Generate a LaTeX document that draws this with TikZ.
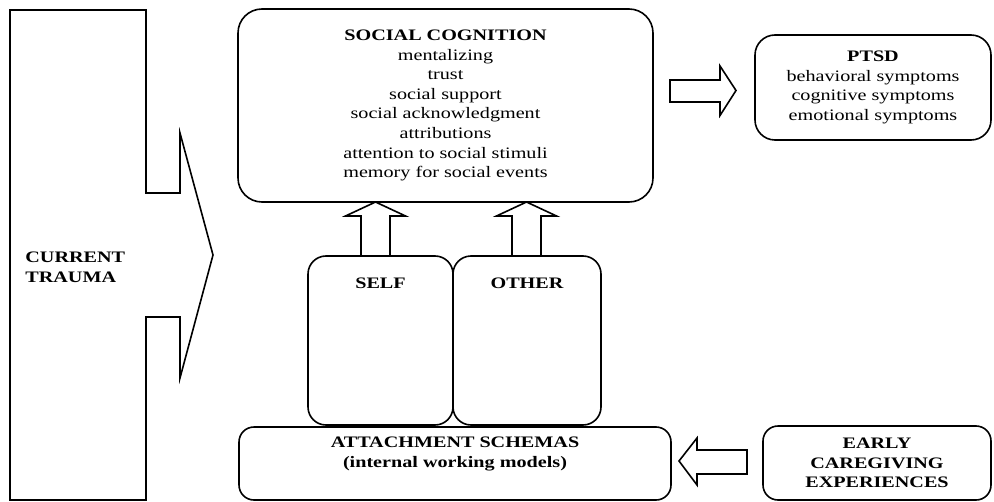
\documentclass[tikz,border=0pt]{standalone}
\usepackage{fontspec}
\setmainfont{Liberation Serif}[FakeStretch=1.26]

\tikzset{
  roundbox/.style={draw, line width=0.8pt, inner sep=0pt, align=center, rounded corners=#1},
  roundbox/.default=8pt,
  blockarrow/.style={draw, line width=0.8pt, line join=miter},
  boxlabel/.style={anchor=center, align=center, font=\bfseries}
}

\begin{document}
\fontsize{8}{9.8}\selectfont
\begin{tikzpicture}[x=0.5pt, y=-0.5pt]
  \useasboundingbox (0,0) rectangle (994,502);

  % current trauma
  \draw[blockarrow] (10,10) -- (146,10) -- (146,193) -- (180,193) -- (180,133)
    -- (213,255) -- (180,378) -- (180,317) -- (146,317) -- (146,500) -- (10,500) -- cycle;
  \node[anchor=west, align=left, inner sep=0pt, font=\bfseries] (trauma) at (25,267) {CURRENT\\TRAUMA};

  % boxes
  \node[roundbox=12pt, minimum width=207.5pt, minimum height=96.5pt] (social) at (445.5,105.5)
    {\textbf{SOCIAL COGNITION}\\mentalizing\\trust\\social support\\social acknowledgment\\attributions\\attention to social stimuli\\memory for social events};
  \node[roundbox=10pt, minimum width=118pt, minimum height=52.5pt] (ptsd) at (873,87.5)
    {\textbf{PTSD}\\behavioral symptoms\\cognitive symptoms\\emotional symptoms};
  \node[roundbox=9pt, minimum width=72.5pt, minimum height=84.5pt,
        label={[boxlabel, yshift=-14pt]north:SELF}] (self) at (380.5,340.5) {};
  \node[roundbox=9pt, minimum width=74pt, minimum height=84.5pt,
        label={[boxlabel, yshift=-14pt]north:OTHER}] (other) at (527,340.5) {};
  \node[roundbox=7.5pt, minimum width=216pt, minimum height=36.5pt,
        label={[boxlabel, yshift=-14pt]north:{ATTACHMENT SCHEMAS\\(internal working models)}}] (schemas) at (455,463.5) {};
  \node[roundbox=7.5pt, minimum width=114pt, minimum height=37pt, font=\bfseries] (early) at (877,463)
    {EARLY\\CAREGIVING\\EXPERIENCES};

  % block arrows
  \coordinate (ctip) at (736,90.5);
  \coordinate (stip) at (375.5,202);
  \coordinate (otip) at (526.5,202);
  \coordinate (etip) at (679,461);
  \draw[blockarrow] (ctip) -- ++(-16,-24.5) -- ++(0,14) -- ++(-50,0) -- ++(0,22) -- ++(50,0) -- ++(0,13.5) -- cycle;
  \draw[blockarrow] (stip) -- ++(30,14) -- ++(-15.5,0) -- ++(0,40) -- ++(-29,0) -- ++(0,-40) -- ++(-15.5,0) -- cycle;
  \draw[blockarrow] (otip) -- ++(30,14) -- ++(-15.5,0) -- ++(0,40) -- ++(-29,0) -- ++(0,-40) -- ++(-15.5,0) -- cycle;
  \draw[blockarrow] (etip) -- ++(18,-23) -- ++(0,12) -- ++(50,0) -- ++(0,24) -- ++(-50,0) -- ++(0,11) -- cycle;
\end{tikzpicture}
\end{document}
